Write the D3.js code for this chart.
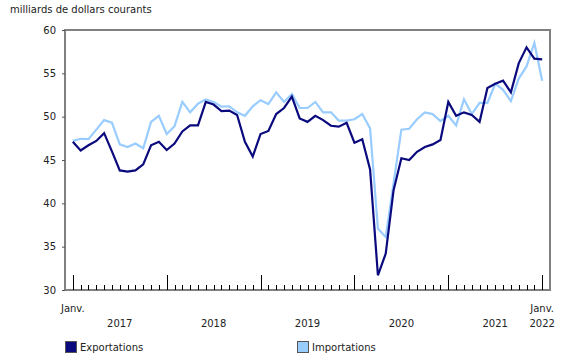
<!DOCTYPE html>
<html>
<head>
<meta charset="utf-8">
<script src="https://cdn.jsdelivr.net/npm/d3@7"></script>
<style>
  body { margin: 0; background: #fff; }
  svg { display: block; font-family: "DejaVu Sans", Verdana, sans-serif; }
</style>
</head>
<body>
<svg id="chart" width="580" height="360"></svg>
<script>
// Monthly values, Jan 2017 .. Jan 2022 (billions of current dollars)
const exportations = [
  47.1, 46.1, 46.7, 47.2, 48.1, 46.0, 43.8, 43.65, 43.8, 44.5, 46.7, 47.1,
  46.15, 46.9, 48.3, 49.0, 49.0, 51.7, 51.4, 50.65, 50.7, 50.2, 47.1, 45.4,
  48.0, 48.35, 50.3, 51.0, 52.3, 49.8, 49.4, 50.1, 49.6, 48.95, 48.85, 49.3,
  47.0, 47.4, 43.9, 31.7, 34.2, 41.5, 45.2, 45.0, 45.95, 46.5, 46.8, 47.3,
  51.7, 50.1, 50.5, 50.2, 49.4, 53.3, 53.8, 54.15, 52.8, 56.15, 58.0, 56.7,
  56.6
];
const importations = [
  47.2, 47.45, 47.4, 48.5, 49.6, 49.3, 46.8, 46.5, 46.9, 46.35, 49.4, 50.1,
  48.0, 48.9, 51.7, 50.5, 51.5, 52.0, 51.7, 51.15, 51.2, 50.5, 50.1, 51.2,
  51.9, 51.45, 52.8, 51.7, 52.6, 51.0, 51.0, 51.7, 50.5, 50.5, 49.55, 49.55,
  49.7, 50.3, 48.65, 37.1, 36.1, 42.3, 48.5, 48.6, 49.7, 50.5, 50.3, 49.5,
  50.1, 49.0, 52.0, 50.3, 51.6, 51.6, 53.8, 53.1, 51.8, 54.4, 55.8, 58.5,
  54.15
];
const years = [2017, 2018, 2019, 2020, 2021];
const yTicks = [30, 35, 40, 45, 50, 55, 60];
const series = [
  { name: "Exportations", values: exportations, color: "#0a0a7e" },
  { name: "Importations", values: importations, color: "#99ccff" }
];

const svg = d3.select("#chart");
const plotLeft = 65, plotRight = 550, plotTop = 30, plotBottom = 290;
const fontSize = 10;

const x = d3.scaleLinear().domain([-1, exportations.length]).range([plotLeft, plotRight]);
const y = d3.scaleLinear().domain([30, 60]).range([plotBottom, plotTop]);

// Unit label
svg.append("text")
  .attr("x", 10).attr("y", 13)
  .attr("font-size", fontSize).attr("fill", "#222")
  .text("milliards de dollars courants");

// Frame
svg.append("rect")
  .attr("x", plotLeft).attr("y", plotTop)
  .attr("width", plotRight - plotLeft).attr("height", plotBottom - plotTop)
  .attr("fill", "none").attr("stroke", "#808080").attr("stroke-width", 2);

// Y axis
const yAxis = svg.append("g")
  .attr("transform", `translate(${plotLeft},0)`)
  .call(d3.axisLeft(y).tickValues(yTicks).tickSize(3).tickPadding(6));
yAxis.select(".domain").remove();
yAxis.selectAll("line").attr("stroke", "#555");
yAxis.selectAll("text")
  .attr("font-size", fontSize).attr("fill", "#222")
  .attr("font-family", "DejaVu Sans, Verdana, sans-serif");

// X ticks: minor every month, major every January
const months = d3.range(exportations.length);
svg.append("g").selectAll("line")
  .data(months)
  .join("line")
  .attr("x1", (d) => Math.round(x(d)) + 0.5)
  .attr("x2", (d) => Math.round(x(d)) + 0.5)
  .attr("y1", (d) => d % 12 === 0 ? plotBottom - 15 : plotBottom - 5)
  .attr("y2", plotBottom)
  .attr("stroke", "#000").attr("stroke-width", 1);

// X labels
[0, 60].forEach((m) => {
  svg.append("text")
    .attr("x", x(m)).attr("y", 312)
    .attr("text-anchor", "middle").attr("font-size", fontSize).attr("fill", "#222")
    .text("Janv.");
});
svg.append("g").selectAll("text")
  .data(years)
  .join("text")
  .attr("x", (d, i) => x(i * 12 + 6))
  .attr("y", 327)
  .attr("text-anchor", "middle").attr("font-size", fontSize).attr("fill", "#222")
  .text((d) => d);
svg.append("text")
  .attr("x", x(60)).attr("y", 327)
  .attr("text-anchor", "middle").attr("font-size", fontSize).attr("fill", "#222")
  .text(2022);

// Lines
const line = d3.line()
  .x((d, i) => x(i))
  .y((d) => y(d));

[series[1], series[0]].forEach((s) => {
  svg.append("path")
    .datum(s.values)
    .attr("d", line)
    .attr("fill", "none")
    .attr("stroke", s.color)
    .attr("stroke-width", 2.2)
    .attr("stroke-linejoin", "miter");
});

// Legend
const legendX = [65, 297];
const legend = svg.append("g").selectAll("g")
  .data(series)
  .join("g")
  .attr("transform", (d, i) => `translate(${legendX[i]},341)`);
legend.append("rect")
  .attr("x", 0.5).attr("y", 0.5)
  .attr("width", 11).attr("height", 11)
  .attr("fill", (d) => d.color)
  .attr("stroke", "#555").attr("stroke-width", 1);
legend.append("text")
  .attr("x", 15).attr("y", 10)
  .attr("font-size", fontSize).attr("fill", "#222")
  .text((d) => d.name);
</script>
</body>
</html>
